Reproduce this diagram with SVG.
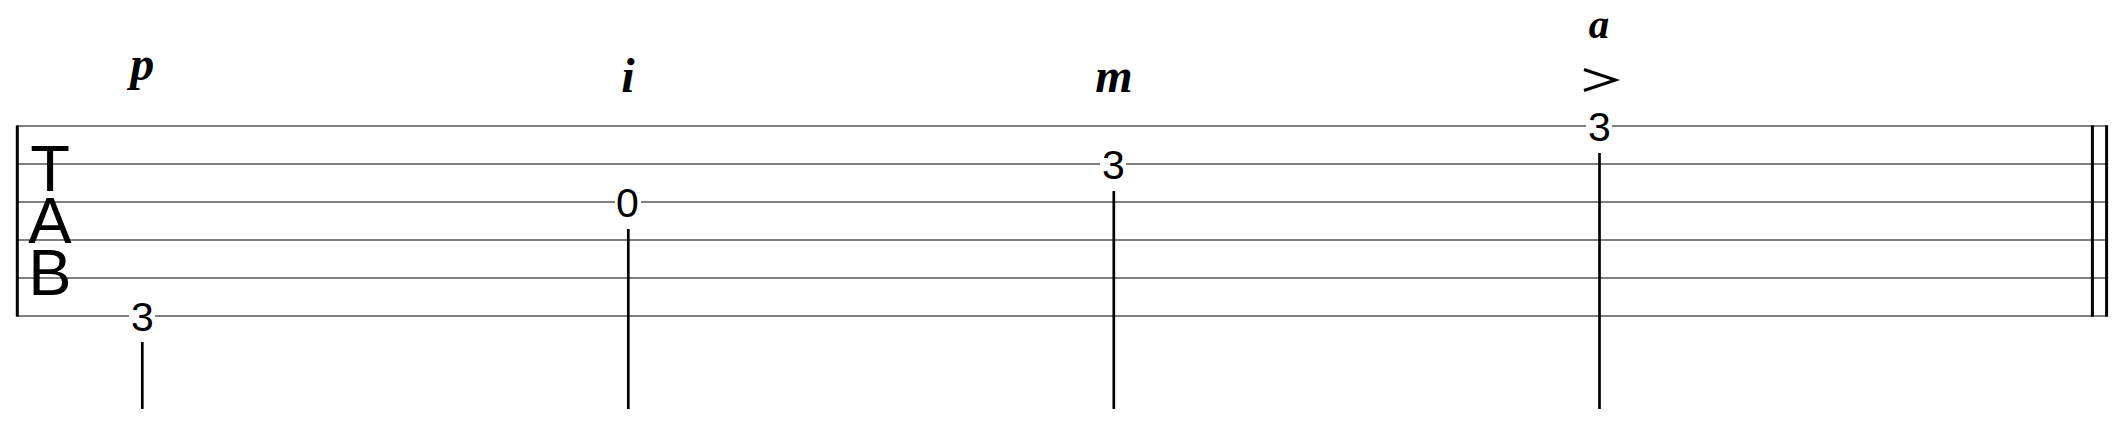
<svg xmlns="http://www.w3.org/2000/svg" width="2124" height="428" viewBox="0 0 2124 428">
<style>
.staff{stroke:#000;stroke-width:1.2;fill:none}
.bar{stroke:#000;stroke-width:3;fill:none}
.stem{stroke:#000;stroke-width:2.7;fill:none}
.tab{font-family:"Liberation Sans",Arial,sans-serif;font-size:65px;fill:#000;text-anchor:middle}
.fret{font-family:"Liberation Sans",Arial,sans-serif;font-size:41px;fill:#000;text-anchor:middle}
.finger{font-family:"Liberation Serif","Times New Roman",serif;font-style:italic;font-weight:bold;font-size:48px;fill:#000;text-anchor:middle}
.bg{fill:#fff}
</style>
<rect width="2124" height="428" fill="#fff"/>
<g id="staff">
<line class="staff" x1="17" y1="126" x2="2108" y2="126"/>
<line class="staff" x1="17" y1="164" x2="2108" y2="164"/>
<line class="staff" x1="17" y1="202" x2="2108" y2="202"/>
<line class="staff" x1="17" y1="240" x2="2108" y2="240"/>
<line class="staff" x1="17" y1="278" x2="2108" y2="278"/>
<line class="staff" x1="17" y1="316" x2="2108" y2="316"/>
<line class="bar" x1="17.3" y1="125.4" x2="17.3" y2="316.6"/>
<line class="bar" x1="2092.4" y1="125.4" x2="2092.4" y2="316.6"/>
<line class="bar" x1="2106.6" y1="125.4" x2="2106.6" y2="316.6"/>
</g>
<g id="clef">
<text class="tab" x="50" y="191">T</text>
<text class="tab" x="50" y="243">A</text>
<text class="tab" x="50" y="295">B</text>
</g>
<g id="connectors">
<line class="stem" x1="142.3" y1="342" x2="142.3" y2="409"/>
<line class="stem" x1="628.3" y1="229" x2="628.3" y2="409"/>
<line class="stem" x1="1113.8" y1="191" x2="1113.8" y2="409"/>
<line class="stem" x1="1599.5" y1="153" x2="1599.5" y2="409"/>
</g>
<g id="note1">
<rect class="bg" x="129" y="301" width="26" height="30"/>
<text class="fret" x="142.3" y="330.6">3</text>
<text class="finger" x="142.3" y="80">p</text>
</g>
<g id="note2">
<rect class="bg" x="615" y="187" width="26" height="30"/>
<text class="fret" x="627.5" y="216.8">0</text>
<text class="finger" x="628" y="92">i</text>
</g>
<g id="note3">
<rect class="bg" x="1100" y="149" width="26" height="30"/>
<text class="fret" x="1113.5" y="178.8">3</text>
<text class="finger" x="1114" y="92">m</text>
</g>
<g id="note4">
<rect class="bg" x="1586" y="111" width="26" height="30"/>
<text class="fret" x="1599.5" y="140.8">3</text>
<polyline points="1584,69.5 1615.5,80 1584,90.5" fill="none" stroke="#000" stroke-width="3" stroke-linejoin="miter"/>
<text class="finger" x="1599" y="38" style="font-size:41px">a</text>
</g>
</svg>
